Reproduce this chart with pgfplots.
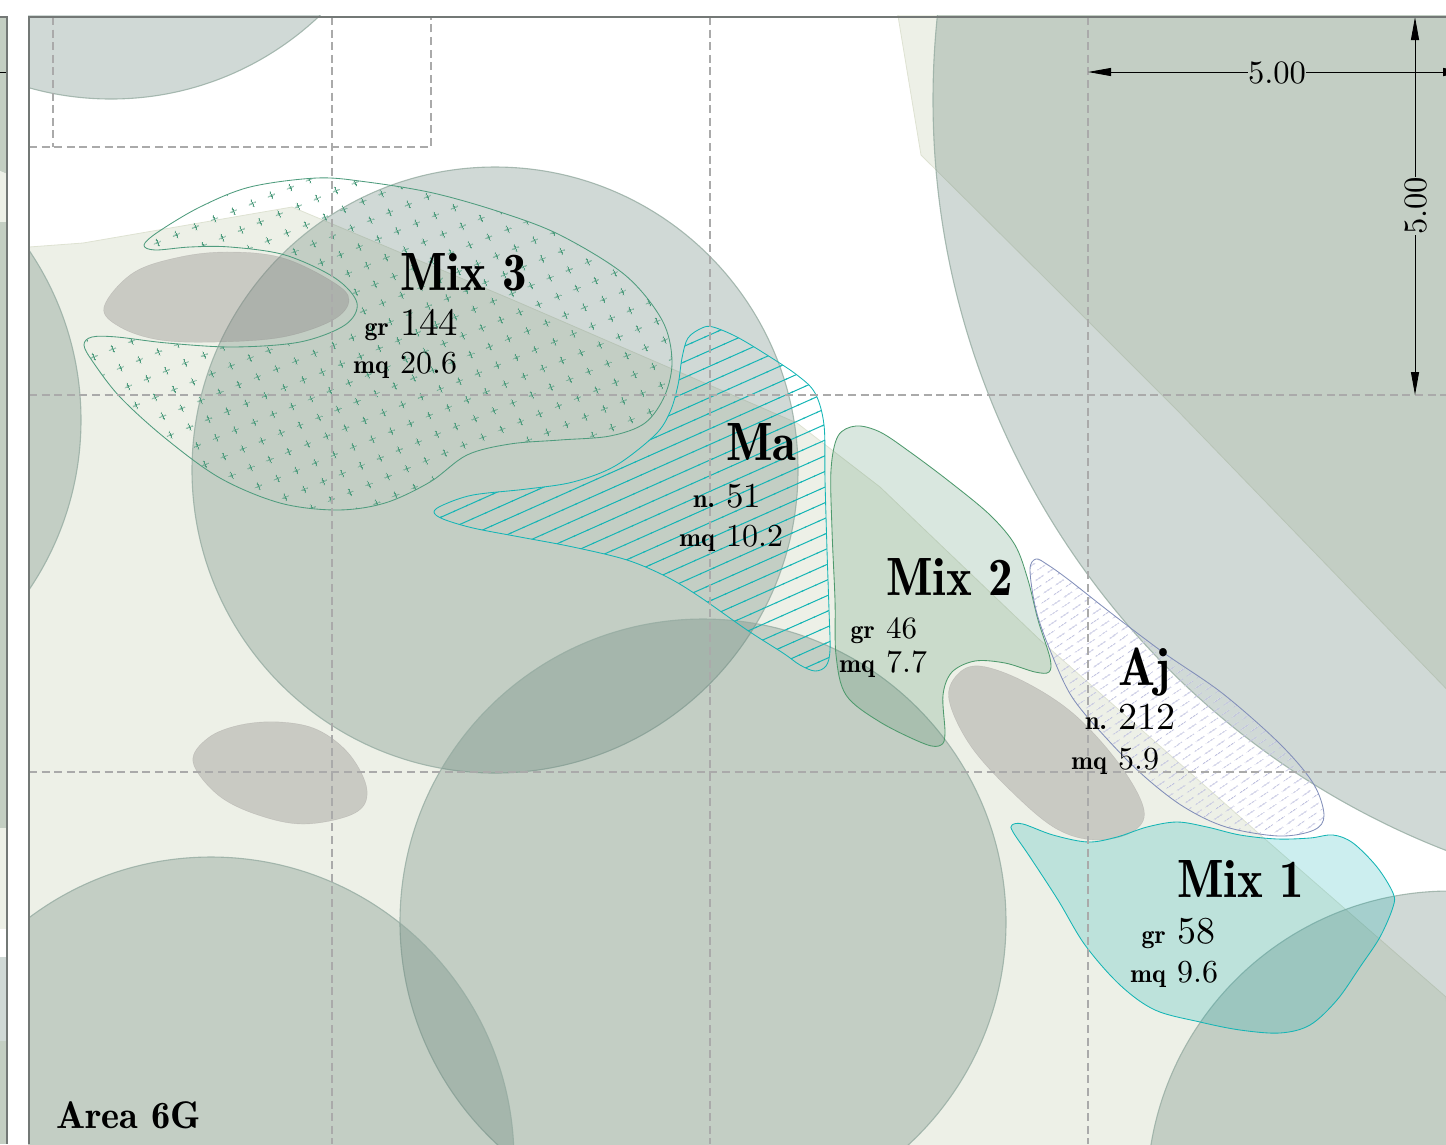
\documentclass[border=0pt]{standalone}
\usepackage{graphicx}
\usepackage{pgfplots}
\pgfplotsset{compat=1.18}
\usetikzlibrary{patterns,patterns.meta,arrows.meta}
\definecolor{lightg}{RGB}{237,240,231}
\definecolor{lightgl}{RGB}{222,226,210}
\definecolor{circ}{RGB}{98,128,118}
\definecolor{circl}{RGB}{150,172,162}
\definecolor{blob}{RGB}{128,122,122}
\definecolor{teal1}{RGB}{0,170,175}
\definecolor{teall}{RGB}{20,181,181}
\definecolor{green2}{RGB}{65,135,95}
\definecolor{greenl}{RGB}{78,154,109}
\definecolor{crossc}{RGB}{79,156,126}
\definecolor{ajl}{RGB}{130,143,185}
\definecolor{ajh}{RGB}{190,192,222}
\definecolor{gridc}{RGB}{170,170,170}
\definecolor{framec}{RGB}{115,120,118}
\definecolor{sage}{RGB}{196,207,195}
\definecolor{blueg}{RGB}{208,217,214}
\pgfdeclarepattern{name=mycross,type=uncolored,
 bottom left={\pgfqpoint{-10.2pt}{-10.2pt}},top right={\pgfqpoint{10.2pt}{10.2pt}},
 tile size={\pgfqpoint{20.4pt}{20.4pt}},tile transformation={\pgftransformrotate{22.5}},defaults={},
 code={\pgfsetlinewidth{0.9pt}
  \pgfpathmoveto{\pgfqpoint{-3.8pt}{0pt}}\pgfpathlineto{\pgfqpoint{3.8pt}{0pt}}
  \pgfpathmoveto{\pgfqpoint{0pt}{-3.8pt}}\pgfpathlineto{\pgfqpoint{0pt}{3.8pt}}
  \pgfusepath{stroke}}}
\pgfdeclarepattern{name=myline,type=uncolored,
 bottom left={\pgfqpoint{-1pt}{0pt}},top right={\pgfqpoint{15.3pt}{14.3pt}},
 tile size={\pgfqpoint{14.3pt}{14.3pt}},tile transformation={\pgftransformrotate{24}},defaults={},
 code={\pgfsetlinewidth{1pt}
  \pgfpathmoveto{\pgfqpoint{-1pt}{7.15pt}}\pgfpathlineto{\pgfqpoint{15.3pt}{7.15pt}}
  \pgfusepath{stroke}}}
\pgfdeclarepattern{name=mydash,type=uncolored,
 bottom left={\pgfqpoint{0pt}{0pt}},top right={\pgfqpoint{15pt}{15pt}},
 tile size={\pgfqpoint{15pt}{15pt}},tile transformation={\pgftransformrotate{34}},defaults={},
 code={\pgfsetlinewidth{1pt}
  \pgfpathmoveto{\pgfqpoint{2pt}{3.75pt}}\pgfpathlineto{\pgfqpoint{12pt}{3.75pt}}
  \pgfpathmoveto{\pgfqpoint{0pt}{11.25pt}}\pgfpathlineto{\pgfqpoint{4.5pt}{11.25pt}}
  \pgfpathmoveto{\pgfqpoint{9.5pt}{11.25pt}}\pgfpathlineto{\pgfqpoint{15pt}{11.25pt}}
  \pgfusepath{stroke}}}
\newcommand{\fT}[1]{\scalebox{1}[1.1]{\fontsize{49}{49}\fontseries{b}\selectfont #1}}
\newcommand{\nf}[2]{\scalebox{#1}{\fontsize{10}{10}\selectfont #2}}
\newcommand{\fS}{\fontsize{26}{26}\fontseries{b}\selectfont}
\newcommand{\lab}[9]{%
 \node[anchor=base west,inner sep=0pt,text=black] at (axis cs:#1,#2) {\fT{#3}};
 \node[anchor=base west,inner sep=0pt,text=black] at (axis cs:#1,#4) {#5};
 \node[anchor=base west,inner sep=0pt,text=black] at (axis cs:#1,#6) {\nf{3.2}{#7}};
 \node[anchor=base east,inner sep=0pt,text=black] at (axis cs:#1-11,#4) {\fS #8};
 \node[anchor=base east,inner sep=0pt,text=black] at (axis cs:#1-11,#6) {\fS #9};}
\begin{document}
\begin{tikzpicture}[x=1pt,y=1pt]
\useasboundingbox (0,0) rectangle (1446,1144);
% left panel
\begin{axis}[at={(0pt,0pt)},anchor=south west,scale only axis,width=7.8pt,height=1128pt,
 xmin=0,xmax=7.8,ymin=16,ymax=1144,y dir=reverse,hide axis,clip=true]
\addplot[fill=sage,draw=none] coordinates {(0,17)(7,17)(7,174)(0,171)} --cycle;
\addplot[fill=lightg,draw=none] coordinates {(0,171)(7,174)(7,222)(0,222)} --cycle;
\addplot[fill=sage,draw=none] coordinates {(0,222)(7,222)(7,828)(0,828)} --cycle;
\addplot[fill=lightg,draw=none] coordinates {(0,828)(7,828)(7,929)(0,929)} --cycle;
\addplot[fill=blueg,draw=none] coordinates {(0,957)(7,957)(7,1041)(0,1041)} --cycle;
\addplot[fill=sage,draw=none] coordinates {(0,1041)(7,1041)(7,1144)(0,1144)} --cycle;
\addplot[black,line width=1pt] coordinates {(0,72)(7,72)};
\addplot[framec,line width=1.5pt] coordinates {(0,17)(7,17)(7,1144)};
\end{axis}
% ground and circles
\begin{scope}
\clip (28,0) rectangle (1446,1128);
\begin{axis}[at={(-700pt,-756pt)},anchor=south west,scale only axis,width=3400pt,height=2600pt,
 xmin=-700,xmax=2700,ymin=-700,ymax=1900,y dir=reverse,hide axis,clip=true]
\addplot[fill=lightg,draw=lightgl,line width=0.8pt] coordinates {(29,247)(83,243)(292,207)(513,300)(797,423)(880,487)(1040,640)(1265,839)(1446,997)(1460,1160)(29,1160)} --cycle;
\addplot[fill=lightg,draw=lightgl,line width=0.8pt] coordinates {(897,10)(921,155)(1060,293)(1177,410)(1460,703)(1460,10)} --cycle;
\addplot[only marks,mark=*,mark size=303pt,mark options={fill=circ,fill opacity=0.3,draw=circl,draw opacity=0.8,line width=1.1pt}] coordinates {(495,470)(703,922)(211,1160)(-222,420)(111,-204)(1450,1194)};
\addplot[only marks,mark=*,mark size=805pt,mark options={fill=circ,fill opacity=0.3,draw=circl,draw opacity=0.8,line width=1.1pt}] coordinates {(1738,100)};
\end{axis}
\end{scope}
% main panel
\begin{axis}[at={(28pt,0pt)},anchor=south west,scale only axis,width=1418pt,height=1128pt,
 xmin=28,xmax=1446,ymin=16,ymax=1144,y dir=reverse,hide axis,clip=true]
% grey blobs
\addplot[smooth cycle,tension=0.6,fill=blob,fill opacity=0.32,draw=blob,draw opacity=0.25] coordinates {(104,307)(133,273)(180,257)(230,252)(283,258)(333,282)(349,300)(333,320)(283,337)(217,342)(160,340)(120,327)};
\addplot[smooth cycle,tension=0.6,fill=blob,fill opacity=0.32,draw=blob,draw opacity=0.25] coordinates {(193,762)(208,738)(240,725)(280,722)(318,730)(350,755)(367,790)(355,813)(305,824)(258,815)(218,795)};
\addplot[smooth cycle,tension=0.6,fill=blob,fill opacity=0.32,draw=blob,draw opacity=0.25] coordinates {(949,700)(957,675)(980,666)(1025,682)(1075,715)(1120,765)(1144,810)(1132,832)(1095,840)(1055,828)(1010,790)(970,745)};
% Mix 3
\addplot[smooth cycle,tension=0.55,draw=crossc,line width=0.85pt,pattern=mycross,pattern color=crossc] coordinates {(144,245)(158,232)(200,207)(250,187)(317,178)(367,182)(433,193)(500,212)(560,235)(625,275)(662,320)(672,360)(665,395)(645,423)(610,436)(560,440)(510,444)(467,455)(430,482)(385,503)(337,510)(280,503)(220,478)(165,438)(120,397)(93,362)(84,345)(92,337)(117,337)(167,343)(233,347)(300,342)(345,325)(357,303)(335,278)(285,255)(230,247)(190,247)(155,250)};
% Ma
\addplot[smooth cycle,tension=0.55,draw=teall,line width=0.85pt,pattern=myline,pattern color=teall] coordinates {(702,328)(713,327)(737,337)(767,355)(797,375)(815,393)(824,425)(825,480)(827,550)(829,610)(830,650)(826,666)(815,671)(800,665)(783,653)(747,630)(700,597)(667,577)(627,560)(573,547)(520,537)(473,528)(443,519)(434,512)(443,505)(473,495)(527,489)(573,482)(615,466)(655,435)(670,412)(678,385)(682,358)(688,338)};
% Mix 2
\addplot[smooth cycle,tension=0.55,draw=greenl,line width=0.85pt,fill=green2,fill opacity=0.2,draw opacity=1] coordinates {(856,426)(838,436)(831,470)(832,530)(835,600)(836,655)(846,695)(880,722)(925,744)(941,745)(945,733)(943,695)(952,672)(975,661)(1005,663)(1035,672)(1049,672)(1050,658)(1038,620)(1028,580)(1015,545)(990,515)(950,482)(910,452)(880,432)};
% Aj
\addplot[smooth cycle,tension=0.55,draw=ajl,line width=0.85pt,pattern=mydash,pattern color=ajh] coordinates {(1036,559)(1030,570)(1036,610)(1050,650)(1072,697)(1108,740)(1145,777)(1184,807)(1226,827)(1279,836)(1314,830)(1324,815)(1313,783)(1279,743)(1222,693)(1164,653)(1111,613)(1069,580)(1048,565)};
% Mix 1
\addplot[smooth cycle,tension=0.55,draw=teall,line width=0.85pt,fill=teal1,fill opacity=0.2,draw opacity=1] coordinates {(1012,825)(1023,824)(1053,835)(1088,842)(1117,837)(1147,827)(1177,822)(1207,827)(1240,835)(1277,839)(1310,838)(1333,835)(1353,843)(1377,867)(1393,893)(1393,907)(1380,937)(1360,967)(1337,1000)(1310,1025)(1280,1033)(1240,1030)(1200,1022)(1155,1010)(1120,985)(1085,945)(1058,900)(1030,857)(1013,832)};
% grid
\pgfplotsset{griddash/.style={gridc,line width=1.3pt,dash pattern=on 8pt off 4.6pt}}
\addplot[griddash] coordinates {(332,17)(332,1144)};
\addplot[griddash] coordinates {(710,17)(710,1144)};
\addplot[griddash] coordinates {(1088,17)(1088,1144)};
\addplot[griddash] coordinates {(29,395)(1446,395)};
\addplot[griddash] coordinates {(29,772)(1446,772)};
\addplot[griddash] coordinates {(53,17)(53,147)};
\addplot[griddash] coordinates {(29,147)(431,147)(431,17)};
% dimensions
\addplot[black,line width=0.9pt,{Stealth[length=23pt,width=8pt,inset=0pt]}-] coordinates {(1088,72)(1248,72)};
\addplot[black,line width=0.9pt,-{Stealth[length=23pt,width=8pt,inset=0pt]}] coordinates {(1306,72)(1466,72)};
\addplot[black,line width=0.9pt,{Stealth[length=23pt,width=8pt,inset=0pt]}-] coordinates {(1415,17)(1415,177)};
\addplot[black,line width=0.9pt,-{Stealth[length=23pt,width=8pt,inset=0pt]}] coordinates {(1415,235)(1415,395)};
\node[inner sep=0pt,anchor=base] at (axis cs:1277,83) {\nf{3.26}{5.00}};
\node[inner sep=0pt,anchor=base,rotate=90] at (axis cs:1426,206) {\nf{3.26}{5.00}};
% frame
\addplot[framec,line width=1.5pt] coordinates {(29,1144)(29,17)(1446,17)};
% labels
\lab{400}{290}{Mix 3}{335}{\nf{3.87}{144}}{373}{20.6}{gr}{mq}
\lab{726}{460}{Ma}{507}{\nf{3.5}{51}}{546}{10.2}{n.}{mq}
\lab{886}{595}{Mix 2}{638}{\nf{3.1}{46}}{672}{7.7}{gr}{mq}
\lab{1118}{685}{Aj}{729}{\nf{3.8}{212}}{769}{5.9}{n.}{mq}
\lab{1177}{897}{Mix 1}{943}{\nf{3.8}{58}}{982}{9.6}{gr}{mq}
\node[anchor=base west,inner sep=0pt] at (axis cs:56,1128) {\fontsize{38.5}{38}\fontseries{b}\selectfont Area 6G};
\end{axis}
\end{tikzpicture}
\end{document}
